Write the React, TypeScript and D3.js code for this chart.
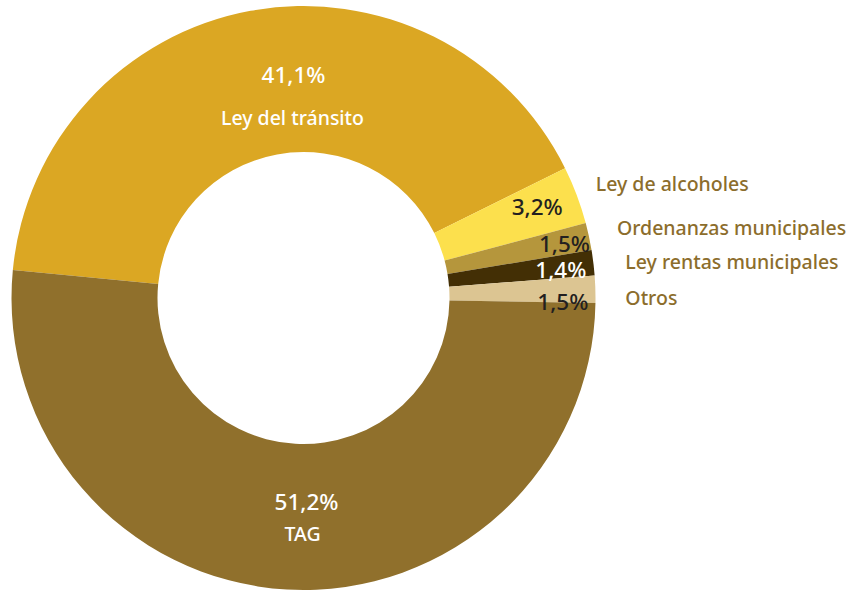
import React from "react";
import * as d3 from "d3";

const categories = ["Ley del tránsito", "Ley de alcoholes", "Ordenanzas municipales", "Ley rentas municipales", "Otros", "TAG"];
const values = [41.1, 3.2, 1.5, 1.4, 1.5, 51.2];
const valueLabels = ["41,1%", "3,2%", "1,5%", "1,4%", "1,5%", "51,2%"];
const colors = ["#DBA723", "#FCE04D", "#B5963C", "#432F05", "#DCC592", "#90702C"];
const pctColors = ["#FFFFFF", "#231F20", "#231F20", "#FFFFFF", "#231F20", "#FFFFFF"];

const W = 851;
const H = 591;
const cx = 303.5;
const cy = 298;
const R = 292;
const r0 = 146;
const FONT = "'Noto Sans', sans-serif";
const LABEL_COLOR = "#8C6D2C";

export default function App() {
  const pie = d3
    .pie<number>()
    .sort(null)
    .value((d) => d)
    .startAngle((-84.5 * Math.PI) / 180)
    .endAngle((-84.5 * Math.PI) / 180 + 2 * Math.PI);
  const arcs = pie(values);
  const arc = d3.arc<d3.PieArcDatum<number>>().innerRadius(r0).outerRadius(R);

  // small-slice label layout relative to each slice's outer mid point
  const smallLayout: Record<number, { dx: number; dy: number; lx: number; ly: number }> = {
    1: { dx: -14, dy: 20, lx: 19, ly: -4 },
    2: { dx: 1, dy: 15, lx: 28, ly: -2 },
    3: { dx: -7, dy: 15, lx: 32, ly: 6 },
    4: { dx: -7, dy: 21, lx: 30, ly: 16 },
  };

  return (
    <svg width={W} height={H} style={{ position: "absolute", left: 0, top: 0 }} fontFamily={FONT} fontWeight={500}>
      <g transform={`translate(${cx},${cy})`}>
        {arcs.map((a, i) => (
          <path key={i} d={arc(a) || ""} fill={colors[i]} />
        ))}
      </g>
      {arcs.map((a, i) => {
        const mid = (a.startAngle + a.endAngle) / 2;
        const ox = cx + R * Math.sin(mid);
        const oy = cy - R * Math.cos(mid);
        if (i === 0) {
          return (
            <g key={i} fill="#FFFFFF" textAnchor="middle">
              <text x={cx - 10} y={83} fontSize={22.5}>{valueLabels[i]}</text>
              <text x={cx - 11} y={125} fontSize={19.5}>{categories[i]}</text>
            </g>
          );
        }
        if (i === 5) {
          return (
            <g key={i} fill="#FFFFFF" textAnchor="middle">
              <text x={cx + 3} y={510} fontSize={22.5}>{valueLabels[i]}</text>
              <text x={cx - 1} y={541} fontSize={19.5}>{categories[i]}</text>
            </g>
          );
        }
        const L = smallLayout[i];
        return (
          <g key={i}>
            <text x={ox + L.dx} y={oy + L.dy} fontSize={22.5} textAnchor="end" fill={pctColors[i]}>
              {valueLabels[i]}
            </text>
            <text x={ox + L.lx} y={oy + L.ly} fontSize={19.5} textAnchor="start" fill={LABEL_COLOR}>
              {categories[i]}
            </text>
          </g>
        );
      })}
    </svg>
  );
}
